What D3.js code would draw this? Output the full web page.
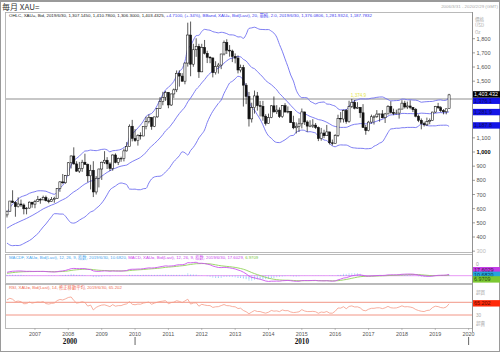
<!DOCTYPE html>
<html>
<head>
<meta charset="utf-8">
<script src="https://cdn.jsdelivr.net/npm/d3@7"></script>
<style>
  body { margin: 0; background: #fff; }
  svg { display: block; font-family: "Liberation Sans", Arial, sans-serif; }
</style>
</head>
<body>
<svg width="500" height="352"></svg>
<script>
// monthly XAU= candles, 2006/03 .. 2019/06
const opens = [
  556, 582, 654, 643, 614, 633, 626, 599, 604, 646,
  632, 650, 665, 662, 679, 656, 650, 665, 673, 743, 789, 783,
  834, 924, 972, 916, 865, 885, 928, 912, 832, 871, 718, 815,
  880, 928, 942, 916, 884, 979, 927, 955, 955, 1008, 1040, 1182,
  1096, 1081, 1118, 1113, 1180, 1214, 1244, 1181, 1248, 1307, 1357, 1386,
  1421, 1332, 1410, 1439, 1556, 1536, 1500, 1628, 1826, 1620, 1722, 1746,
  1566, 1738, 1697, 1669, 1664, 1560, 1604, 1614, 1692, 1773, 1719, 1713,
  1675, 1663, 1579, 1596, 1472, 1393, 1234, 1313, 1396, 1327, 1323, 1253,
  1202, 1244, 1326, 1284, 1296, 1250, 1327, 1282, 1287, 1208, 1171, 1182,
  1199, 1283, 1212, 1183, 1183, 1190, 1172, 1095, 1134, 1115, 1142, 1065,
  1061, 1118, 1238, 1233, 1293, 1215, 1322, 1351, 1309, 1316, 1277, 1173,
  1151, 1211, 1249, 1249, 1268, 1269, 1242, 1269, 1322, 1280, 1271, 1275,
  1303, 1345, 1318, 1325, 1315, 1299, 1253, 1224, 1201, 1192, 1215, 1222,
  1282, 1321, 1313, 1292, 1284, 1307.145
];
const highs = [
  587, 654, 730, 653, 680, 664, 637, 611, 651, 647,
  662, 690, 675, 692, 692, 672, 682, 684, 745, 794, 845, 838,
  929, 976, 1033, 935, 930, 945, 988, 919, 910, 935, 830, 882,
  932, 1006, 964, 928, 983, 990, 961, 967, 1024, 1070, 1195, 1227,
  1162, 1126, 1139, 1180, 1249, 1265, 1245, 1248, 1310, 1387, 1425, 1431,
  1424, 1412, 1448, 1576, 1577, 1557, 1632, 1913, 1921, 1764, 1803, 1764,
  1764, 1791, 1715, 1677, 1667, 1641, 1629, 1693, 1787, 1796, 1755, 1723,
  1696, 1682, 1617, 1615, 1487, 1424, 1348, 1434, 1424, 1361, 1361, 1267,
  1271, 1332, 1392, 1331, 1315, 1332, 1345, 1322, 1290, 1256, 1209, 1238,
  1307, 1284, 1224, 1224, 1232, 1205, 1180, 1170, 1157, 1191, 1142, 1088,
  1126, 1263, 1282, 1299, 1304, 1362, 1375, 1367, 1352, 1317, 1338, 1191,
  1220, 1264, 1261, 1296, 1270, 1296, 1276, 1331, 1358, 1306, 1299, 1307,
  1366, 1362, 1356, 1365, 1318, 1310, 1265, 1237, 1214, 1243, 1237, 1284,
  1326, 1347, 1324, 1303, 1306, 1410.78
];
const lows = [
  538, 580, 640, 543, 608, 612, 560, 560, 600, 607,
  603, 648, 635, 660, 651, 638, 648, 642, 671, 719, 776, 776,
  833, 884, 911, 860, 852, 860, 912, 786, 736, 682, 700, 750,
  803, 915, 880, 866, 868, 920, 908, 931, 934, 1003, 1040, 1075,
  1072, 1045, 1088, 1112, 1160, 1202, 1157, 1176, 1242, 1305, 1330, 1361,
  1309, 1325, 1382, 1423, 1462, 1497, 1478, 1603, 1535, 1602, 1672, 1523,
  1564, 1689, 1628, 1627, 1527, 1547, 1554, 1585, 1682, 1692, 1673, 1635,
  1626, 1555, 1562, 1321, 1338, 1180, 1208, 1271, 1292, 1251, 1221, 1187,
  1200, 1239, 1277, 1268, 1240, 1241, 1281, 1273, 1205, 1161, 1131, 1142,
  1167, 1191, 1142, 1175, 1170, 1162, 1077, 1080, 1098, 1113, 1053, 1046,
  1061, 1107, 1208, 1208, 1200, 1207, 1310, 1301, 1304, 1241, 1171, 1122,
  1146, 1200, 1194, 1241, 1214, 1237, 1205, 1267, 1271, 1260, 1264, 1236,
  1302, 1307, 1303, 1302, 1282, 1245, 1211, 1160, 1180, 1183, 1196, 1221,
  1276, 1303, 1281, 1266, 1266, 1306.3
];
const closes = [
  582, 654, 643, 614, 633, 626, 599, 604, 646, 632,
  650, 665, 662, 679, 656, 650, 665, 673, 743, 789, 783, 834,
  924, 972, 916, 865, 885, 928, 912, 832, 871, 718, 815, 880,
  928, 942, 916, 884, 979, 927, 955, 955, 1008, 1040, 1182, 1096,
  1081, 1118, 1113, 1180, 1214, 1244, 1181, 1248, 1307, 1357, 1386, 1421,
  1332, 1410, 1439, 1556, 1536, 1500, 1628, 1826, 1620, 1722, 1746, 1566,
  1738, 1697, 1669, 1664, 1560, 1604, 1614, 1692, 1773, 1719, 1713, 1675,
  1663, 1579, 1596, 1472, 1393, 1234, 1313, 1396, 1327, 1323, 1253, 1202,
  1244, 1326, 1284, 1296, 1250, 1327, 1282, 1287, 1208, 1171, 1182, 1199,
  1283, 1212, 1183, 1183, 1190, 1172, 1095, 1134, 1115, 1142, 1065, 1061,
  1118, 1238, 1233, 1293, 1215, 1322, 1351, 1309, 1316, 1277, 1173, 1151,
  1211, 1249, 1249, 1268, 1269, 1242, 1269, 1322, 1280, 1271, 1275, 1303,
  1345, 1318, 1325, 1315, 1299, 1253, 1224, 1201, 1192, 1215, 1222, 1282,
  1321, 1313, 1292, 1284, 1305, 1403.4325
];
// earlier closes (2002/01 .. 2006/02), only feed the indicators
const priorCloses = [
  282, 296, 302, 308, 326, 318, 304, 312, 324, 317, 319, 347,
  367, 347, 334, 336, 361, 346, 354, 375, 385, 386, 398, 416,
  400, 396, 427, 388, 393, 395, 391, 407, 416, 428, 453, 438,
  422, 434, 428, 435, 417, 437, 429, 434, 473, 470, 495, 517,
  569, 556
];
const priceTicks = [300, 400, 500, 600, 700, 800, 900, 1000, 1100, 1500, 1600, 1700, 1800];
const years = d3.range(2007, 2021);
const decades = [{label: "2000", from: 2006, to: 2010}, {label: "2010", from: 2010, to: 2020}];
const hLineLevel = 1374.9;
const hLineMonth = "2016-07";
const lastBand = [1376.0806, 1281.9324, 1187.7832];
const lastMacd = [17.6029, 10.6820, 6.9709];
const lastRsi = 65.202;

const svg = d3.select("svg");
const W = 500, H = 352;
const L = 5, R = 472;
const main = {top: 12, bottom: 252};
const mp = {top: 254, bottom: 283};
const rp = {top: 284, bottom: 328};

const dates = d3.utcMonth.range(new Date(Date.UTC(2006, 2, 1)), new Date(Date.UTC(2019, 6, 1)));
const candles = dates.map((d, i) => ({date: d, o: opens[i], h: highs[i], l: lows[i], c: closes[i]}));

// indicators
const allC = priorCloses.concat(closes);
const off = priorCloses.length;
function ema(arr, n) {
  const k = 2 / (n + 1), out = [];
  arr.forEach((v, i) => out.push(i === 0 ? v : v * k + out[i - 1] * (1 - k)));
  return out;
}
const bands = candles.map((d, i) => {
  const w = allC.slice(off + i - 19, off + i + 1);
  const m = d3.mean(w);
  const sd = Math.sqrt(d3.mean(w, v => (v - m) ** 2));
  return {date: d.date, up: m + 2 * sd, mid: m, lo: m - 2 * sd};
});
const e12 = ema(allC, 12), e26 = ema(allC, 26);
const macdAll = e12.map((v, i) => v - e26[i]);
const sigAll = ema(macdAll, 9);
const macd = candles.map((d, i) => ({date: d.date, m: macdAll[off + i], s: sigAll[off + i], h: macdAll[off + i] - sigAll[off + i]}));
let ag = 0, al = 0;
const rsiAll = [];
for (let i = 1; i < allC.length; i++) {
  const ch = allC[i] - allC[i - 1];
  const g = Math.max(ch, 0), l = Math.max(-ch, 0);
  if (i <= 14) { ag += g / 14; al += l / 14; }
  else { ag = (ag * 13 + g) / 14; al = (al * 13 + l) / 14; }
  rsiAll[i] = i < 14 ? null : 100 - 100 / (1 + ag / al);
}
const rsi = candles.map((d, i) => ({date: d.date, v: rsiAll[off + i]}));

// scales
const x = d3.scaleUtc().domain([new Date(Date.UTC(2006, 1, 7)), new Date(Date.UTC(2020, 1, 7))]).range([L, R]);
const y = d3.scaleLinear().domain([400, 1800]).range([237, 38.7]);
const ym = d3.scaleLinear().domain([-100, 150]).range([283.3, 264.3]);
const yr = d3.scaleLinear().domain([30, 70]).range([315, 302.3]);

// frame
svg.append("rect").attr("x", 0.5).attr("y", 0.5).attr("width", W - 1).attr("height", H - 1)
  .attr("fill", "#fff").attr("stroke", "#9a9a9a");
svg.append("rect").attr("x", 0).attr("y", 0).attr("width", W).attr("height", 2).attr("fill", "#9a9a9a");
svg.append("text").attr("x", 2).attr("y", 10).attr("font-size", 8)
  .attr("font-family", "Noto Sans CJK JP").attr("fill", "#333").text("毎月 XAU=");
svg.append("text").attr("x", 498).attr("y", 8).attr("text-anchor", "end").attr("font-size", 4.4)
  .attr("fill", "#aaa").text("2006/3/31 - 2020/2/29 (GMT)");

// panel borders
[main, mp, rp].forEach(p => {
  svg.append("rect").attr("x", L + 0.5).attr("y", p.top + 0.5).attr("width", R - L)
    .attr("height", p.bottom - p.top).attr("fill", "none").attr("stroke", "#aaa").attr("stroke-width", 0.8);
});
svg.append("line").attr("x1", R + 0.5).attr("x2", R + 0.5).attr("y1", main.top).attr("y2", 332)
  .attr("stroke", "#888").attr("stroke-width", 0.8);

const defs = svg.append("defs");
[["cm", main], ["cmp", mp], ["crp", rp]].forEach(([id, p]) => {
  defs.append("clipPath").attr("id", id).append("rect")
    .attr("x", L + 1).attr("y", p.top + 1).attr("width", R - L - 1).attr("height", p.bottom - p.top - 1);
});

// main panel
const gMain = svg.append("g").attr("clip-path", "url(#cm)");
const hLineY = y(hLineLevel);
gMain.append("line").attr("x1", L).attr("x2", R).attr("y1", hLineY).attr("y2", hLineY)
  .attr("stroke", "#b4b4b4").attr("stroke-width", 1.5);
gMain.append("text").attr("x", x(d3.utcParse("%Y-%m")(hLineMonth)) - 1).attr("y", hLineY - 1.5)
  .attr("font-size", 4.6).attr("fill", "#e6e64a").text(d3.format(",.1f")(hLineLevel));

["up", "mid", "lo"].forEach(k => {
  gMain.append("path").datum(bands)
    .attr("d", d3.line().x(d => x(d.date)).y(d => y(d[k])).curve(d3.curveMonotoneX))
    .attr("fill", "none").attr("stroke", "#6f6ff0").attr("stroke-width", 0.9);
});

const cg = gMain.selectAll(".candle").data(candles).enter().append("g");
cg.append("line").attr("x1", d => x(d.date)).attr("x2", d => x(d.date))
  .attr("y1", d => y(d.h)).attr("y2", d => y(d.l)).attr("stroke", "#111").attr("stroke-width", 0.7);
cg.append("rect").attr("x", d => x(d.date) - 1.05).attr("width", 2.1)
  .attr("y", d => y(Math.max(d.o, d.c)))
  .attr("height", d => Math.max(0.6, Math.abs(y(d.o) - y(d.c))))
  .attr("fill", d => d.c >= d.o ? "#fff" : "#111")
  .attr("stroke", "#111").attr("stroke-width", 0.55);

// price axis
const yAxis = svg.append("g");
priceTicks.forEach(t => {
  yAxis.append("line").attr("x1", R).attr("x2", R + 3).attr("y1", y(t)).attr("y2", y(t)).attr("stroke", "#777").attr("stroke-width", 0.7);
  yAxis.append("text").attr("x", R + 4.5).attr("y", y(t) + 2)
    .attr("font-size", 5.6).attr("fill", t === 300 ? "#bbb" : (t === 1000 ? "#000" : "#555"))
    .attr("font-weight", t === 1000 ? "bold" : "normal").text(d3.format(",")(t));
});
["價格", "USD", "Oz"].forEach((s, i) => {
  svg.append("text").attr("x", R + 3).attr("y", 21 + i * 6.3).attr("font-size", 4.6)
    .attr("font-family", "Noto Sans CJK TC, Liberation Sans").attr("fill", "#aaa").text(s);
});
// value boxes
function valBox(val, yc, bg, fg, txt) {
  svg.append("rect").attr("x", R + 1).attr("y", yc - 3.2).attr("width", W - R - 1).attr("height", 6.4).attr("fill", bg);
  svg.append("text").attr("x", R + 2).attr("y", yc + 2).attr("font-size", 5.4).attr("fill", fg).text(txt);
}
valBox(lastBand[2], y(lastBand[2]), "#1414e6", "#0a0a60", d3.format(",.1f")(lastBand[2]));
valBox(lastBand[1], y(lastBand[1]), "#1414e6", "#0a0a60", d3.format(",.1f")(lastBand[1]));
valBox(lastBand[0], y(lastBand[0]) + 2, "#1414e6", "#0a0a60", d3.format(",.1f")(lastBand[0]));
valBox(closes[closes.length - 1], y(closes[closes.length - 1]) - 0.5, "#000", "#fff", d3.format(",.3f")(closes[closes.length - 1]));

// legends
function legend(yPos, parts, targetW) {
  const t = svg.append("text").attr("x", 9).attr("y", yPos).attr("font-size", 10)
    .attr("font-family", "Liberation Sans, Noto Sans CJK TC");
  parts.forEach(([s, c]) => t.append("tspan").attr("fill", c).text(s));
  const w = t.node().getComputedTextLength();
  t.attr("font-size", 10 * targetW / w);
}
legend(16.5, [["OHLC, XAU=, Bid, 2019/6/30, 1,307.1450, 1,410.7800, 1,306.3000, 1,403.4325, ", "#222"],
            ["+4.7100, (+.34%), BBand, XAU=, Bid(Last), 20, 單純, 2.0, 2019/6/30, 1,376.0806, 1,281.9324, 1,187.7832", "#3c3cf0"]], 364);

// MACD panel
const gM = svg.append("g").attr("clip-path", "url(#cmp)");
gM.append("line").attr("x1", L).attr("x2", R).attr("y1", ym(0)).attr("y2", ym(0)).attr("stroke", "#e58cf5").attr("stroke-width", 0.9);
gM.selectAll(".hb").data(macd).enter().append("line")
  .attr("x1", d => x(d.date)).attr("x2", d => x(d.date))
  .attr("y1", ym(0)).attr("y2", d => ym(d.h))
  .attr("stroke", "#5ab0ee").attr("stroke-width", 0.8).attr("stroke-dasharray", "0.8,0.5");
gM.append("path").datum(macd).attr("d", d3.line().x(d => x(d.date)).y(d => ym(d.s)))
  .attr("fill", "none").attr("stroke", "#92d35a").attr("stroke-width", 0.9);
gM.append("path").datum(macd).attr("d", d3.line().x(d => x(d.date)).y(d => ym(d.m)))
  .attr("fill", "none").attr("stroke", "#cc55ee").attr("stroke-width", 0.9);
legend(259, [["MACDF, XAU=, Bid(Last), 12, 26, 9, 指数, 2019/6/30, 10.6820, ", "#4aa6ee"],
               ["MACD, XAU=, Bid(Last), 12, 26, 9, 指数, 2019/6/30, 17.6029, ", "#cc44ee"],
               ["6.9709", "#78c83a"]], 250);
svg.append("text").attr("x", R + 4).attr("y", 266).attr("font-size", 5).attr("fill", "#999").text("0");
valBox(lastMacd[0], 270.2, "#c43ee6", "#40104a", d3.format(".4f")(lastMacd[0]));
valBox(lastMacd[1], 274.8, "#26a4dc", "#073a55", d3.format(".4f")(lastMacd[1]));
valBox(lastMacd[2], 279.4, "#7cc832", "#2a4a10", d3.format(".4f")(lastMacd[2]));

// RSI panel
const gR = svg.append("g").attr("clip-path", "url(#crp)");
[70, 30].forEach(v => gR.append("line").attr("x1", L).attr("x2", R).attr("y1", yr(v)).attr("y2", yr(v))
  .attr("stroke", "#f08a78").attr("stroke-width", 0.9));
gR.append("path").datum(rsi).attr("d", d3.line().x(d => x(d.date)).y(d => yr(d.v)))
  .attr("fill", "none").attr("stroke", "#f59a86").attr("stroke-width", 0.8);
legend(288.5, [["RSI, XAU=, Bid(Last), 14, 修正移動平均, 2019/6/30, 65.202", "#f06a50"]], 113);
svg.append("text").attr("x", R + 4).attr("y", 294).attr("font-size", 4.6).attr("font-family", "Noto Sans CJK TC").attr("fill", "#aaa").text("超買");
svg.append("text").attr("x", R + 4).attr("y", 317).attr("font-size", 4.6).attr("fill", "#aaa").text("30");
svg.append("text").attr("x", R + 4).attr("y", 325).attr("font-size", 4.6).attr("font-family", "Noto Sans CJK TC").attr("fill", "#aaa").text("超賣");
valBox(lastRsi, yr(lastRsi) - 0.5, "#ff2a0a", "#5a0a00", d3.format(".3f")(lastRsi));

// time axis
years.forEach(yv => {
  const xx = x(new Date(Date.UTC(yv, 0, 1)));
  svg.append("line").attr("x1", xx).attr("x2", xx).attr("y1", rp.bottom).attr("y2", rp.bottom + 2).attr("stroke", "#999").attr("stroke-width", 0.6);
  svg.append("text").attr("x", xx).attr("y", 336).attr("text-anchor", "middle").attr("font-size", 5.4).attr("fill", "#555").text(yv);
});
decades.forEach(dc => {
  const x0 = Math.max(L, x(new Date(Date.UTC(dc.from, 0, 1))));
  const x1 = x(new Date(Date.UTC(dc.to, 0, 1)));
  svg.append("text").attr("x", (x0 + x1) / 2).attr("y", 343.5).attr("text-anchor", "middle")
    .attr("font-size", 7.2).attr("font-weight", "bold").attr("font-family", "Liberation Serif").attr("fill", "#111").text(dc.label);
  svg.append("line").attr("x1", x1).attr("x2", x1).attr("y1", 337).attr("y2", 345).attr("stroke", "#555").attr("stroke-width", 0.9);
});
</script>
</body>
</html>
